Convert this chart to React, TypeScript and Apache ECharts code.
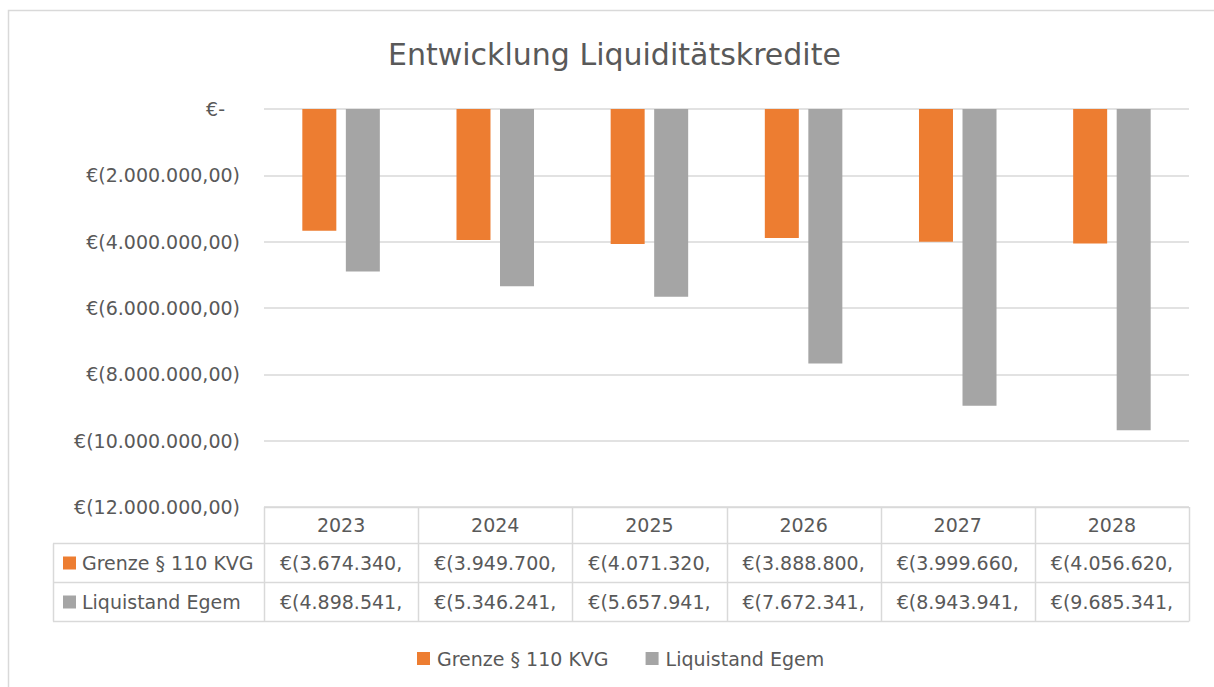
import React, { useEffect, useRef } from "react";
import * as echarts from "echarts";

const years = ["2023", "2024", "2025", "2026", "2027", "2028"];
const grenze = [-3674340, -3949700, -4071320, -3888800, -3999660, -4056620];
const liquistand = [-4898541, -5346241, -5657941, -7672341, -8943941, -9685341];
const seriesNames = ["Grenze § 110 KVG", "Liquistand Egem"];
const yMin = -12000000;
const yMax = 0;
const yStep = 2000000;

const W = 1214;
const H = 687;
const FONT = "DejaVu Sans";
const FS = 19;
const TXT = "#595959";
const LINE = "#d9d9d9";
const COLORS = ["#ED7D31", "#A5A5A5"];

const gridL = 264;
const gridR = 1189;
const gridT = 109;
const gridB = 507;

function fmtDE(v: number): string {
  return String(Math.round(Math.abs(v))).replace(/\B(?=(\d{3})+(?!\d))/g, ".");
}

export default function App() {
  const ref = useRef<HTMLDivElement>(null);
  useEffect(() => {
    if (!ref.current) return;
    const chart = echarts.init(ref.current, null, { renderer: "svg" });
    const colW = (gridR - gridL) / years.length;
    const rowY = [gridB, 543.5, 582.5, 621.5];
    const graphics: any[] = [];
    graphics.push({
      type: "rect",
      shape: { x: 8.5, y: 10.5, width: 1400, height: 1000 },
      style: { fill: "none", stroke: LINE, lineWidth: 1.5 },
      silent: true,
    });
    graphics.push({
      type: "line",
      shape: { x1: gridL, y1: gridB + 0.5, x2: gridR, y2: gridB + 0.5 },
      style: { stroke: LINE, lineWidth: 1.5 },
    });
    [rowY[1], rowY[2], rowY[3]].forEach((y) =>
      graphics.push({
        type: "line",
        shape: { x1: 53, y1: y, x2: gridR, y2: y },
        style: { stroke: LINE, lineWidth: 1.5 },
      })
    );
    graphics.push({
      type: "line",
      shape: { x1: 53.5, y1: rowY[1], x2: 53.5, y2: rowY[3] },
      style: { stroke: LINE, lineWidth: 1.5 },
    });
    for (let i = 0; i <= years.length; i++) {
      const x = Math.round(gridL + i * colW) + 0.5;
      graphics.push({
        type: "line",
        shape: { x1: x, y1: gridB, x2: x, y2: rowY[3] },
        style: { stroke: LINE, lineWidth: 1.5 },
      });
    }
    const rows = [grenze, liquistand];
    rows.forEach((vals, r) => {
      const cy = (rowY[r + 1] + rowY[r + 2]) / 2;
      graphics.push({
        type: "rect",
        shape: { x: 63, y: cy - 6.5, width: 13, height: 13 },
        style: { fill: COLORS[r] },
      });
      graphics.push({
        type: "text",
        x: 82,
        y: cy,
        style: {
          text: seriesNames[r],
          font: `${FS}px "${FONT}"`,
          fill: TXT,
          align: "left",
          verticalAlign: "middle",
        },
      });
      vals.forEach((v, i) => {
        graphics.push({
          type: "text",
          x: gridL + (i + 0.5) * colW,
          y: cy,
          style: {
            text: `€(${fmtDE(v)},`,
            font: `${FS}px "${FONT}"`,
            fill: TXT,
            align: "center",
            verticalAlign: "middle",
          },
        });
      });
    });

    chart.setOption({
      animation: false,
      textStyle: { fontFamily: FONT },
      title: {
        text: "Entwicklung Liquiditätskredite",
        left: 383,
        top: 34,
        textStyle: { fontFamily: FONT, fontSize: 30, fontWeight: "normal", color: TXT },
      },
      legend: {
        left: 412,
        top: 644,
        itemWidth: 13,
        itemHeight: 13,
        itemGap: 37,
        icon: "rect",
        textStyle: { fontFamily: FONT, fontSize: FS, color: TXT, padding: [0, 0, 0, 2] },
        data: seriesNames,
      },
      grid: { left: gridL, right: W - gridR, top: gridT, bottom: H - gridB },
      xAxis: {
        type: "category",
        data: years,
        axisLine: { show: false },
        axisTick: { show: false },
        axisLabel: {
          fontFamily: FONT,
          fontSize: FS,
          color: TXT,
          margin: 18,
          verticalAlign: "middle",
        },
      },
      yAxis: {
        type: "value",
        min: yMin,
        max: yMax,
        interval: yStep,
        axisLine: { show: false },
        axisTick: { show: false },
        splitLine: { lineStyle: { color: LINE, width: 1.5 } },
        axisLabel: {
          fontFamily: FONT,
          fontSize: FS,
          color: TXT,
          margin: 24,
          formatter: (v: number) => (v === 0 ? "{z|€-}" : `€(${fmtDE(v)},00)`),
          rich: { z: { fontFamily: FONT, fontSize: FS, color: TXT, padding: [0, 15, 0, 0] } },
        },
      },
      series: [
        {
          name: seriesNames[0],
          type: "bar",
          data: grenze,
          barWidth: 34,
          barGap: "28%",
          itemStyle: { color: COLORS[0] },
        },
        {
          name: seriesNames[1],
          type: "bar",
          data: liquistand,
          barWidth: 34,
          barGap: "28%",
          itemStyle: { color: COLORS[1] },
        },
      ],
      graphic: graphics,
    });
    return () => chart.dispose();
  }, []);
  return (
    <div
      ref={ref}
      style={{ position: "absolute", left: 0, top: 0, width: W, height: H, background: "#fff" }}
    />
  );
}
